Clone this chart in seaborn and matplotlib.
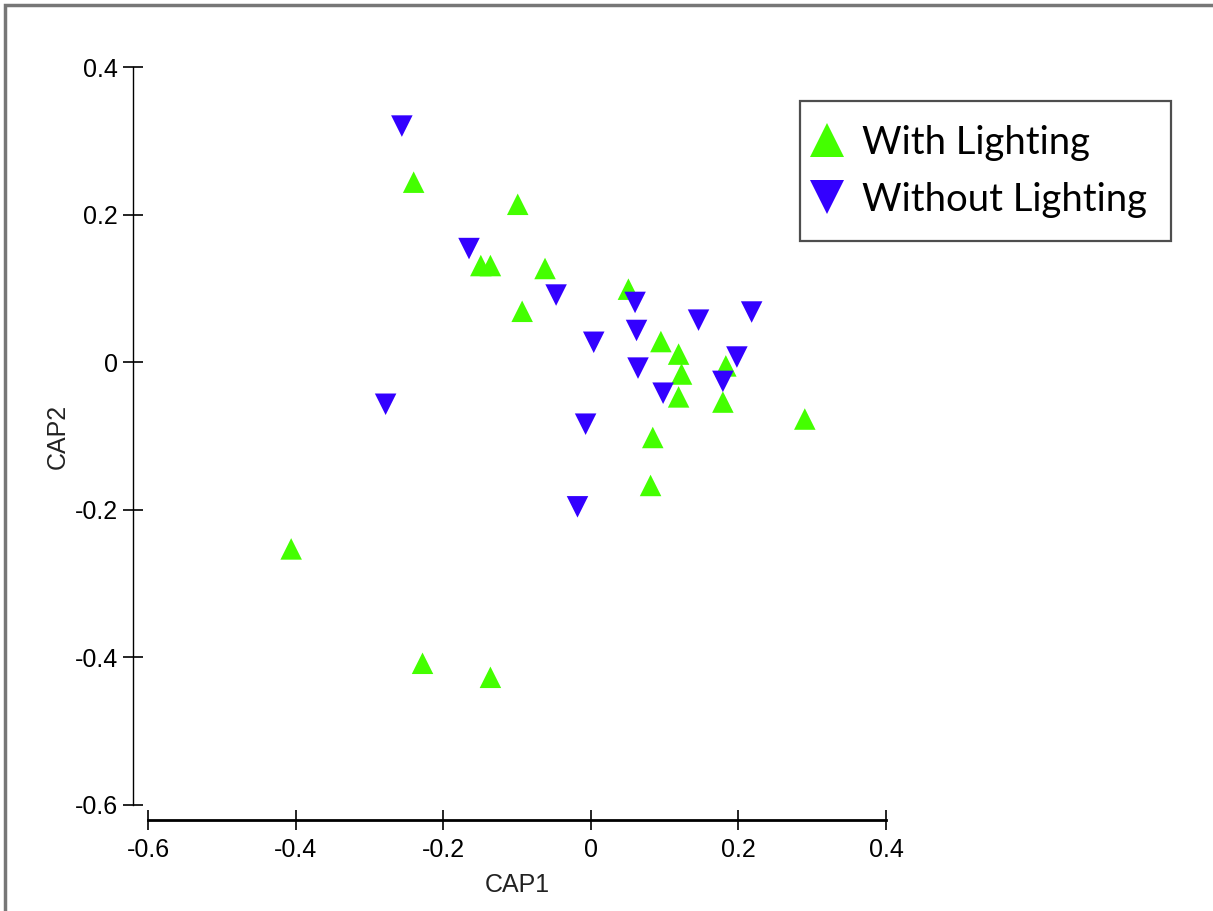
import matplotlib
matplotlib.use("Agg")
import matplotlib.pyplot as plt
from matplotlib.lines import Line2D
from matplotlib.patches import Rectangle
import pandas as pd
import seaborn as sns

# CAP ordination scores
with_x = [-0.406, -0.228, -0.136, -0.240, -0.099, -0.149, -0.136, -0.062, -0.093,
          0.051, 0.095, 0.119, 0.123, 0.119, 0.183, 0.179, 0.084, 0.081, 0.290]
with_y = [-0.253, -0.408, -0.427, 0.244, 0.214, 0.131, 0.131, 0.127, 0.069,
          0.099, 0.028, 0.011, -0.016, -0.047, -0.005, -0.054, -0.102, -0.167, -0.077]
without_x = [-0.256, -0.165, -0.047, 0.060, 0.062, 0.004, 0.064, 0.098, 0.146,
             0.218, 0.198, 0.179, -0.278, -0.007, -0.018]
without_y = [0.320, 0.154, 0.091, 0.081, 0.043, 0.027, -0.008, -0.042, 0.057,
             0.068, 0.007, -0.026, -0.057, -0.084, -0.196]

groups = ["With Lighting", "Without Lighting"]
ticks = [-0.6, -0.4, -0.2, 0, 0.2, 0.4]
tick_labels = ["-0.6", "-0.4", "-0.2", "0", "0.2", "0.4"]

df = pd.concat([
    pd.DataFrame({"CAP1": with_x, "CAP2": with_y, "group": groups[0]}),
    pd.DataFrame({"CAP1": without_x, "CAP2": without_y, "group": groups[1]}),
], ignore_index=True)

colors = {groups[0]: "#44FF00", groups[1]: "#3300FF"}
markers = {groups[0]: "^", groups[1]: "v"}

sns.set_style("white")
plt.rcParams["font.family"] = ["Liberation Sans", "DejaVu Sans"]
plt.rcParams["text.color"] = "black"
plt.rcParams["axes.labelcolor"] = "#222222"

fig = plt.figure(figsize=(12.13, 9.11), dpi=100)
ax = fig.add_axes([0.122, 0.1164, 0.6084, 0.810])

sns.scatterplot(data=df, x="CAP1", y="CAP2", hue="group", style="group",
                palette=colors, markers=markers, s=240, linewidth=0,
                legend=False, ax=ax)

ax.set_xlim(-0.6, 0.4)
ax.set_ylim(-0.6, 0.4)
ax.set_xticks(ticks)
ax.set_xticklabels(tick_labels)
ax.set_yticks(ticks)
ax.set_yticklabels(tick_labels)

for side in ["top", "right"]:
    ax.spines[side].set_visible(False)
ax.spines["left"].set_position(("outward", 11))
ax.spines["bottom"].set_position(("outward", 11))
ax.spines["left"].set_linewidth(1.0)
ax.spines["bottom"].set_linewidth(2.0)
ax.spines["left"].set_color("black")
ax.spines["bottom"].set_color("black")

ax.tick_params(axis="both", bottom=True, left=True, direction="inout",
               length=15, width=1.2, colors="black", labelsize=18, pad=3)
ax.tick_params(axis="x", pad=5)
ax.set_xlabel("CAP1", fontsize=18, labelpad=8)
ax.set_ylabel("CAP2", fontsize=18, labelpad=4)

handles = [Line2D([], [], linestyle="none", marker=markers[g], color=colors[g],
                  markersize=24, markeredgewidth=0) for g in groups]
leg = ax.legend(handles, groups, loc="upper left",
                bbox_to_anchor=(0.6595, 0.889), bbox_transform=fig.transFigure,
                borderaxespad=0, frameon=True, fancybox=False,
                prop={"family": "Lato", "size": 27.5},
                handlelength=0.2, handletextpad=0.8, borderpad=0.62,
                labelspacing=0.55)
leg.get_frame().set_edgecolor("#222222")
leg.get_frame().set_linewidth(1.6)
for t in leg.get_texts():
    t.set_color("black")

# grey frame around the figure (only top and left are visible in the crop)
fig.add_artist(Rectangle((5 / 1213, -0.05), 1.2, 0.05 + 906 / 911,
                         transform=fig.transFigure, fill=False,
                         edgecolor="#777777", linewidth=2.5))

fig.savefig("out.png", dpi=100)
